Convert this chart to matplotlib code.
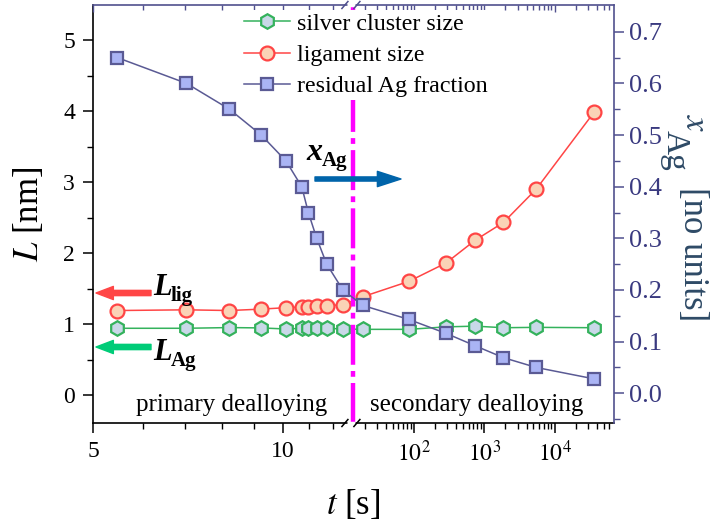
import numpy as np
import matplotlib
matplotlib.use("Agg")
import matplotlib.pyplot as plt

plt.rcParams['font.family'] = ['Liberation Serif', 'DejaVu Serif']
plt.rcParams['mathtext.fontset'] = 'stix'

# ---------------- data ----------------
t_primary = [5.46, 7.03, 8.22, 9.23, 10.1, 10.7, 10.96, 11.3, 11.72, 12.43]
t_secondary = [19.0, 85.0, 288.0, 745.0, 1880.0, 5500.0, 36300.0]
t = t_primary + t_secondary

silver_cluster = [0.94, 0.94, 0.95, 0.945, 0.93, 0.94, 0.94, 0.94, 0.94, 0.93,
                  0.925, 0.925, 0.96, 0.97, 0.948, 0.953, 0.948]
ligament = [1.19, 1.20, 1.19, 1.21, 1.23, 1.24, 1.245, 1.25, 1.26, 1.27,
            1.385, 1.60, 1.86, 2.18, 2.43, 2.90, 3.98]
residual_ag = [0.65, 0.60, 0.55, 0.50, 0.45, 0.40, 0.35, 0.30, 0.25, 0.20,
               0.17, 0.143, 0.116, 0.092, 0.069, 0.050, 0.028]

legend_labels = ['silver cluster size', 'ligament size', 'residual Ag fraction']
x_major = [5, 10, 100, 1000, 10000]
x_major_labels = ['5', '10', r'$10^{2}$', r'$10^{3}$', r'$10^{4}$']
x_minor = [6, 7, 8, 9, 11, 12] + [20, 30, 40, 50, 60, 70, 80, 90] + \
          [200, 300, 400, 500, 600, 700, 800, 900] + \
          [2000, 3000, 4000, 5000, 6000, 7000, 8000, 9000] + \
          [20000, 30000, 40000, 50000, 60000]
t_break = 12.8        # axis break value
t_transition = 13.5   # primary / secondary dealloying boundary
x_lim = (5, 70000)

# ---------------- broken log scale ----------------
K = 8.976  # stretch factor of the left (primary) segment
l5 = np.log10(5.0)
lb = np.log10(t_break)

def fwd(x):
    x = np.asarray(x, dtype=float)
    with np.errstate(divide='ignore', invalid='ignore'):
        u = np.log10(np.where(x > 0, x, np.nan))
    return np.where(u <= lb, (u - l5) * K, (lb - l5) * K + (u - lb))

def inv(f):
    f = np.asarray(f, dtype=float)
    fb = (lb - l5) * K
    u = np.where(f <= fb, f / K + l5, f - fb + lb)
    return 10 ** u

# ---------------- colors ----------------
slate = '#50508E'
slate_txt = '#3A3A80'
label_col = '#2E4A66'
green_e, green_f = '#34B25C', '#C9D8E8'
red_e, red_f = '#FF4545', '#FAD3B6'
sq_e, sq_f = '#5A5A94', '#AAB4F4'

W, H = 710, 527
fig = plt.figure(figsize=(W / 100, H / 100), dpi=100)
ax = fig.add_axes([93 / W, 104 / H, 521 / W, 418 / H])
ax.set_xscale('function', functions=(fwd, inv))
ax.set_xlim(*x_lim)
ax.set_ylim(-0.394, 5.493)

l1, = ax.plot(t, silver_cluster, '-', color=green_e, lw=1.1, marker='h', ms=10.5,
              mfc=green_f, mec=green_e, mew=1.6, zorder=3)
l2, = ax.plot(t, ligament, '-', color=red_e, lw=1.1, marker='o', ms=10,
              mfc=red_f, mec=red_e, mew=1.6, zorder=4)

ax2 = ax.twinx()
ax2.set_ylim(-0.0575, 0.7517)
l3, = ax2.plot(t, residual_ag, '-', color=sq_e, lw=1.1, marker='s', ms=9,
               mfc=sq_f, mec=sq_e, mew=1.6, zorder=5)

# transition line
ax2.axvline(t_transition, color='#FF00FF', lw=3.2,
            linestyle=(0, (9, 1.4, 1.3, 1.4)), zorder=1.8)

# ---------------- ticks ----------------
ax.set_xticks(x_major, labels=x_major_labels)
ax.set_xticks(x_minor, minor=True)
ax.tick_params(axis='x', which='major', direction='out', length=7, width=1.1,
               labelsize=17, pad=6, top=False)
ax.tick_params(axis='x', which='minor', direction='out', length=4, width=1.0, top=False)
ax.set_yticks(np.arange(0, 6, 1))
ax.set_yticks(np.arange(-0.0, 5.5, 0.5), minor=True)
ax.tick_params(axis='y', which='major', direction='out', length=7, width=1.1,
               labelsize=17, pad=6)
ax.tick_params(axis='y', which='minor', direction='out', length=4, width=1.0)

ax2.set_yticks(np.round(np.arange(0, 0.75, 0.1), 2))
ax2.set_yticks(np.round(np.arange(-0.05, 0.75, 0.05), 3), minor=True)
ax2.yaxis.set_major_formatter(matplotlib.ticker.FormatStrFormatter('%.1f'))
ax2.tick_params(axis='y', which='major', direction='out', length=7, width=1.1,
                labelsize=19, pad=4, color=slate, labelcolor=slate_txt)
ax2.tick_params(axis='y', which='minor', direction='out', length=4, width=1.0, color=slate)
# top ticks (inward)
ax2.xaxis.set_visible(True)
ax2.tick_params(axis='x', which='both', direction='in', top=True, bottom=False,
                labeltop=False, labelbottom=False, color=slate)
ax2.tick_params(axis='x', which='major', length=5, width=1.0)
ax2.tick_params(axis='x', which='minor', length=3.5, width=1.0)

for s in ['left', 'bottom']:
    ax.spines[s].set_linewidth(1.2)
for s in ['top', 'right']:
    ax2.spines[s].set_color(slate)
    ax2.spines[s].set_linewidth(1.2)
ax2.spines['left'].set_visible(False)
ax2.spines['bottom'].set_visible(False)
ax.spines['top'].set_visible(False)
ax.spines['right'].set_visible(False)

# axis break marks
fb = float((fwd(t_break) - fwd(x_lim[0])) / (fwd(x_lim[1]) - fwd(x_lim[0])))
pxw, pxh = 1 / 521, 1 / 418
for yy, col in [(0.0, 'black'), (1.0, slate)]:
    ax2.plot([fb - 4 * pxw, fb + 4 * pxw], [yy, yy], transform=ax2.transAxes,
             color='white', lw=2.5, clip_on=False, zorder=7, solid_capstyle='butt')
    for dx in (-6, 6):
        ax2.plot([fb + (dx - 3) * pxw, fb + (dx + 3) * pxw],
                 [yy - 3.5 * pxh, yy + 3.5 * pxh], transform=ax2.transAxes,
                 color=col, lw=1.1, clip_on=False, zorder=8)

# ---------------- labels ----------------
ax.set_xlabel(r'$t$ [s]', fontsize=25)
ax.xaxis.set_label_coords(0.5, -0.155)
ax.set_ylabel(r'$L$ [nm]', fontsize=25)
ax.yaxis.set_label_coords(-0.09, 0.5)

# right axis label: x, lowered "Ag", then [no units]
def rlabel(x, y, s, **kw):
    fig.text(x / W, 1 - y / H, s, rotation=270, rotation_mode='anchor',
             ha='left', va='baseline', color=label_col, **kw)

rlabel(686, 114, r'$x$', fontsize=25)
rlabel(667, 130, 'Ag', fontsize=24)
rlabel(684, 187, '[no units]', fontsize=25)

# legend (white background hides the transition line behind it)
leg = ax2.legend([l1, l2, l3], legend_labels, loc='upper left',
                 bbox_to_anchor=(241 / W, 1 - 10 / H), bbox_transform=fig.transFigure,
                 frameon=True, facecolor='white', edgecolor='none', framealpha=1,
                 fancybox=False, fontsize=17.3, borderpad=0.125, borderaxespad=0,
                 handlelength=1.9, handletextpad=0.3, labelspacing=0.39)
leg.set_zorder(2.2)

# region texts
fig.text(232 / W, 1 - 405 / H, 'primary dealloying', fontsize=18,
         ha='center', va='center')
fig.text(477 / W, 1 - 405 / H, 'secondary dealloying', fontsize=18,
         ha='center', va='center')

# annotations with arrows
def arrow(x0, y0, x1, y1, color, hl, hw, tw):
    ax2.annotate('', xy=(x1, H - y1), xytext=(x0, H - y0),
                 xycoords='figure pixels', textcoords='figure pixels',
                 arrowprops=dict(arrowstyle=f'simple,head_length={hl},head_width={hw},tail_width={tw}',
                                 color=color, shrinkA=0, shrinkB=0, mutation_scale=1),
                 zorder=9)

arrow(315, 179, 401, 179, '#0064AA', 17, 11, 3.0)
arrow(151, 293, 96, 293, '#FF4646', 12.5, 9.5, 3.8)
arrow(151, 347, 96, 347, '#00CC78', 12.5, 9.5, 3.8)

def label(x, y, main, sub, mainsize=22, subsize=15):
    fig.text(x / W, 1 - y / H, main, fontsize=mainsize, fontweight='bold',
             fontstyle='italic', ha='left', va='baseline')
    fig.text((x + (18 if main == 'L' else 16)) / W, 1 - (y + 6) / H, sub,
             fontsize=subsize, fontweight='bold', ha='left', va='baseline')

label(153, 295, 'L', 'lig')
label(153, 360, 'L', 'Ag')
label(306, 160, 'x', 'Ag', mainsize=23)

fig.savefig('out.png', dpi=100)
